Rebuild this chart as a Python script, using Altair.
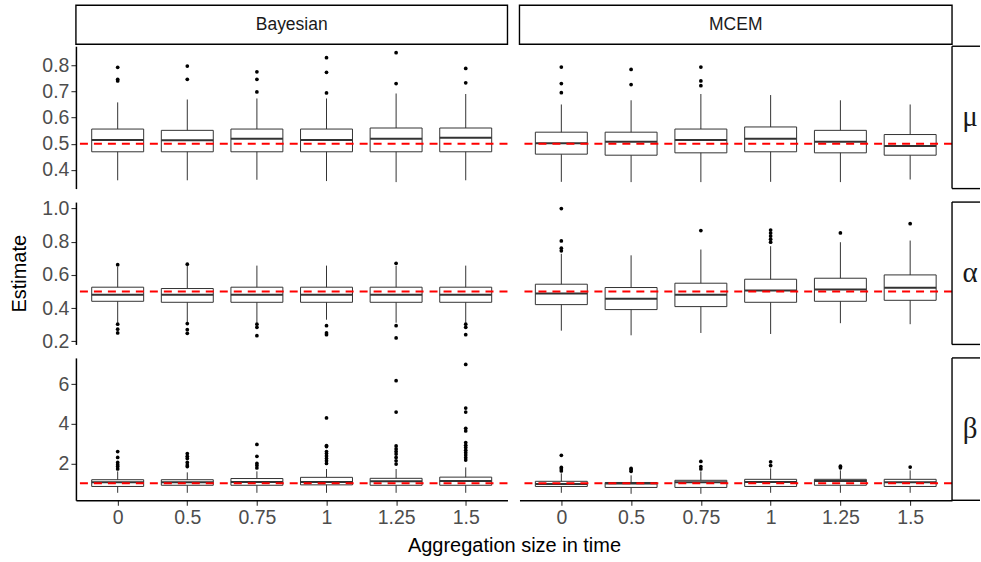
import altair as alt
import pandas as pd

# ---- categories -------------------------------------------------------------
AGG_SIZES = ["0", "0.5", "0.75", "1", "1.25", "1.5"]
METHODS = ["Bayesian", "MCEM"]
PARAMS = ["mu", "alpha", "beta"]
PARAM_LABELS = ["μ", "α", "β"]
TRUE_VALUES = [0.5, 0.5, 1.0]

# y-axis tick labels per parameter row
Y_TICKS = [[0.4, 0.5, 0.6, 0.7, 0.8], [0.2, 0.4, 0.6, 0.8, 1.0], [2, 4, 6]]
Y_FORMATS = [".1f", ".1f", "d"]

# ---- box summaries: (lower whisker, Q1, median, Q3, upper whisker) per aggregation size
MU_BAYESIAN = [
    (0.360, 0.469, 0.514, 0.556, 0.658),
    (0.360, 0.469, 0.513, 0.551, 0.669),
    (0.362, 0.469, 0.519, 0.556, 0.673),
    (0.357, 0.469, 0.514, 0.556, 0.673),
    (0.353, 0.469, 0.519, 0.560, 0.692),
    (0.360, 0.469, 0.523, 0.560, 0.690),
]
MU_MCEM = [
    (0.354, 0.460, 0.502, 0.544, 0.650),
    (0.353, 0.456, 0.507, 0.544, 0.666),
    (0.353, 0.465, 0.514, 0.556, 0.690),
    (0.354, 0.469, 0.519, 0.564, 0.686),
    (0.353, 0.465, 0.507, 0.551, 0.666),
    (0.363, 0.456, 0.491, 0.535, 0.650),
]
ALPHA_BAYESIAN = [
    (0.312, 0.441, 0.480, 0.526, 0.650),
    (0.312, 0.435, 0.480, 0.518, 0.655),
    (0.312, 0.435, 0.480, 0.526, 0.656),
    (0.330, 0.435, 0.480, 0.526, 0.656),
    (0.312, 0.435, 0.480, 0.526, 0.655),
    (0.312, 0.435, 0.480, 0.526, 0.656),
]
ALPHA_MCEM = [
    (0.264, 0.421, 0.488, 0.544, 0.727),
    (0.236, 0.391, 0.457, 0.524, 0.718),
    (0.250, 0.409, 0.481, 0.550, 0.753),
    (0.244, 0.435, 0.506, 0.574, 0.773),
    (0.309, 0.441, 0.512, 0.580, 0.797),
    (0.303, 0.447, 0.522, 0.600, 0.807),
]
BETA_BAYESIAN = [
    (0.52, 0.84, 1.05, 1.18, 1.60),
    (0.52, 0.90, 1.05, 1.18, 1.55),
    (0.52, 0.90, 1.07, 1.24, 1.60),
    (0.52, 0.92, 1.07, 1.30, 1.72),
    (0.52, 0.90, 1.10, 1.25, 1.72),
    (0.52, 0.90, 1.12, 1.31, 1.80),
]
BETA_MCEM = [
    (0.52, 0.84, 0.97, 1.10, 1.50),
    (0.47, 0.79, 0.99, 1.04, 1.40),
    (0.47, 0.79, 1.05, 1.15, 1.60),
    (0.52, 0.84, 1.07, 1.20, 1.75),
    (0.52, 0.90, 1.12, 1.20, 1.65),
    (0.52, 0.84, 1.05, 1.20, 1.65),
]

# ---- outlying estimates per aggregation size
MU_BAYESIAN_OUT = [
    [0.792, 0.746, 0.740], [0.797, 0.746], [0.775, 0.746, 0.698],
    [0.829, 0.773, 0.694], [0.848, 0.730], [0.788, 0.733],
]
MU_MCEM_OUT = [
    [0.793, 0.730, 0.695], [0.784, 0.726], [0.793, 0.740, 0.722], [], [], [],
]
ALPHA_BAYESIAN_OUT = [
    [0.662, 0.303, 0.273, 0.250], [0.665, 0.307, 0.270, 0.248], [0.303, 0.284, 0.234],
    [0.294, 0.250, 0.240], [0.670, 0.294, 0.220], [0.303, 0.284, 0.240],
]
ALPHA_MCEM_OUT = [
    [1.000, 0.805, 0.761, 0.745], [], [0.867],
    [0.870, 0.852, 0.834, 0.815, 0.797], [0.853], [0.909],
]
BETA_BAYESIAN_OUT = [
    [2.60, 2.30, 2.05, 1.94, 1.84, 1.72],
    [2.50, 2.36, 2.25, 2.05, 1.92, 1.84],
    [2.96, 2.36, 2.00, 1.89, 1.77],
    [4.29, 2.90, 2.85, 2.60, 2.50, 2.38, 2.25, 2.13, 2.00],
    [6.17, 4.59, 2.88, 2.73, 2.60, 2.47, 2.30, 2.13, 1.97],
    [6.99, 4.79, 4.59, 3.77, 3.64, 3.05, 2.91, 2.80, 2.67, 2.54, 2.42, 2.29, 2.17],
]
BETA_MCEM_OUT = [
    [2.41, 1.80, 1.72, 1.62], [1.75, 1.68, 1.60], [2.10, 1.84, 1.72],
    [2.08, 1.89], [1.86, 1.78], [1.82],
]

BOXES = {
    ("mu", "Bayesian"): MU_BAYESIAN, ("mu", "MCEM"): MU_MCEM,
    ("alpha", "Bayesian"): ALPHA_BAYESIAN, ("alpha", "MCEM"): ALPHA_MCEM,
    ("beta", "Bayesian"): BETA_BAYESIAN, ("beta", "MCEM"): BETA_MCEM,
}
OUTLIERS = {
    ("mu", "Bayesian"): MU_BAYESIAN_OUT, ("mu", "MCEM"): MU_MCEM_OUT,
    ("alpha", "Bayesian"): ALPHA_BAYESIAN_OUT, ("alpha", "MCEM"): ALPHA_MCEM_OUT,
    ("beta", "Bayesian"): BETA_BAYESIAN_OUT, ("beta", "MCEM"): BETA_MCEM_OUT,
}

# ---- layout constants -------------------------------------------------------
PANEL_W = [432, 433]
PANEL_H = 142.5
STRIP_H = 27.7
STRIP_BOX_H = 39
SIDE_W = 16
COL_GAP = 12
ROW_GAP = 13
BOX_W = 52

SANS = "Liberation Sans"
SERIF = "Liberation Serif"
TICK_LABEL_SIZE = 19.5
TITLE_SIZE = 20


def y_domain(param):
    vals = []
    for m in METHODS:
        for b in BOXES[(param, m)]:
            vals += [b[0], b[4]]
        for o in OUTLIERS[(param, m)]:
            vals += o
    lo, hi = min(vals), max(vals)
    pad = 0.05 * (hi - lo)
    return [lo - pad, hi + pad]


def panel(r, c):
    param, method = PARAMS[r], METHODS[c]
    box_df = pd.DataFrame(
        [dict(agg=a, lo=b[0], q1=b[1], med=b[2], q3=b[3], hi=b[4])
         for a, b in zip(AGG_SIZES, BOXES[(param, method)])]
    )
    out_df = pd.DataFrame(
        [dict(agg=a, value=v) for a, vs in zip(AGG_SIZES, OUTLIERS[(param, method)]) for v in vs],
        columns=["agg", "value"],
    )
    ref_df = pd.DataFrame({"ref": [TRUE_VALUES[r]]})

    if r == 2:
        x_axis = alt.Axis(
            labelAngle=0, domainColor="black", domainWidth=1.5, tickColor="#333333",
            tickSize=5, tickWidth=1.1, labelColor="#4D4D4D", labelFont=SANS,
            labelFontSize=TICK_LABEL_SIZE, labelPadding=3, grid=False,
            title="Aggregation size in time" if c == 0 else None,
            titleFont=SANS, titleFontSize=TITLE_SIZE, titleFontWeight="normal",
            titleColor="black", titlePadding=9,
            titleX=(PANEL_W[0] + COL_GAP + PANEL_W[1]) / 2,
        )
    else:
        x_axis = None

    if c == 0:
        y_axis = alt.Axis(
            values=Y_TICKS[r], format=Y_FORMATS[r], domainColor="black", domainWidth=1.5,
            tickColor="#333333", tickSize=5, tickWidth=1.1, labelColor="#4D4D4D",
            labelFont=SANS, labelFontSize=TICK_LABEL_SIZE, labelPadding=2,
            labelFlush=False, labelOverlap=False, grid=False,
            title="Estimate" if r == 1 else None,
            titleFont=SANS, titleFontSize=TITLE_SIZE, titleFontWeight="normal",
            titleColor="black", titlePadding=12,
        )
    else:
        y_axis = None

    x = alt.X("agg:O", sort=AGG_SIZES, scale=alt.Scale(type="point", padding=0.6), axis=x_axis)
    yscale = alt.Scale(domain=y_domain(param), nice=False, zero=False)

    whisker = alt.Chart(box_df).mark_rule(color="#333333", strokeWidth=1).encode(
        x=x, y=alt.Y("lo:Q", scale=yscale, axis=y_axis), y2="hi:Q"
    )
    box = alt.Chart(box_df).mark_bar(
        size=BOX_W, fill="white", stroke="#333333", strokeWidth=1
    ).encode(x=x, y=alt.Y("q1:Q", scale=yscale, axis=y_axis), y2="q3:Q")
    median = alt.Chart(box_df).mark_tick(
        size=BOX_W, thickness=2, color="#333333", opacity=1
    ).encode(x=x, y=alt.Y("med:Q", scale=yscale, axis=y_axis))
    points = alt.Chart(out_df).mark_circle(size=14, color="black", opacity=1).encode(
        x=x, y=alt.Y("value:Q", scale=yscale, axis=y_axis)
    )
    ref = alt.Chart(ref_df).mark_rule(
        color="#FF0000", strokeWidth=2, strokeDash=[8, 6]
    ).encode(y=alt.Y("ref:Q", scale=yscale, axis=y_axis))

    return alt.layer(whisker, box, median, points, ref).properties(
        width=PANEL_W[c], height=PANEL_H
    )


def top_strip(c):
    df = pd.DataFrame({"label": [METHODS[c]]})
    w = PANEL_W[c]
    rect = alt.Chart(df).mark_rect(fill="white", stroke="black", strokeWidth=1.4).encode(
        x=alt.value(0), x2=alt.value(w), y=alt.value(0), y2=alt.value(STRIP_BOX_H)
    )
    text = alt.Chart(df).mark_text(
        font=SANS, fontSize=17.5, color="#1A1A1A", baseline="middle", align="center"
    ).encode(text="label:N", x=alt.value(w / 2), y=alt.value(STRIP_BOX_H / 2))
    return alt.layer(rect, text).properties(width=w, height=STRIP_H)


def side_strip(r):
    df = pd.DataFrame({"label": [PARAM_LABELS[r]]})
    left = -COL_GAP
    edge = alt.Chart(df).mark_rule(color="black", strokeWidth=1.4)
    v = edge.encode(x=alt.value(left), y=alt.value(0), y2=alt.value(PANEL_H))
    t = edge.encode(x=alt.value(left), x2=alt.value(SIDE_W), y=alt.value(0))
    b = edge.encode(x=alt.value(left), x2=alt.value(SIDE_W), y=alt.value(PANEL_H))
    text = alt.Chart(df).mark_text(
        font=SERIF, fontSize=29, color="#1A1A1A", baseline="middle", align="center"
    ).encode(text="label:N", x=alt.value(6), y=alt.value(PANEL_H / 2))
    return alt.layer(v, t, b, text).properties(width=SIDE_W, height=PANEL_H)


def blank():
    df = pd.DataFrame({"v": [0]})
    return alt.Chart(df).mark_point(opacity=0).encode(
        x=alt.value(0), y=alt.value(0)
    ).properties(width=SIDE_W, height=STRIP_H)


cells = [top_strip(0), top_strip(1), blank()]
for r in range(3):
    cells += [panel(r, 0), panel(r, 1), side_strip(r)]

chart = alt.concat(
    *cells, columns=3, spacing={"row": ROW_GAP, "column": COL_GAP},
    bounds="flush", align="each",
).properties(
    padding={"left": 9, "top": 2, "right": 0, "bottom": 0},
    background="white",
).configure_view(stroke=None)

chart.save("out.html", embed_options={"renderer": "svg", "actions": False})
